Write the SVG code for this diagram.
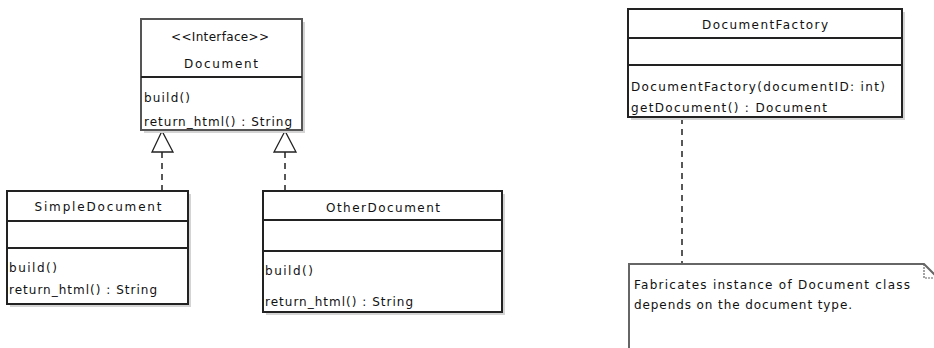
<svg xmlns="http://www.w3.org/2000/svg" width="934" height="348" viewBox="0 0 934 348">
<style>
.box{fill:#fff;stroke:#222;stroke-width:2}
.ibox{fill:#fff;stroke:#555;stroke-width:2}
.sh{fill:#d4d4d4}
.sep{stroke:#222;stroke-width:2}
.t{font-family:"DejaVu Sans",sans-serif;font-size:12px;fill:#111}
.c{text-anchor:middle}
.dash{stroke:#222;stroke-width:1.5;stroke-dasharray:6,5;fill:none}
.tri{fill:#fff;stroke:#222;stroke-width:1.3}
.note{fill:#fff;stroke:#666;stroke-width:2}
</style>
<rect width="934" height="348" fill="#fff"/>
<g id="connectors">
<line class="dash" x1="162" y1="152" x2="162" y2="191"/>
<line class="dash" x1="285" y1="152" x2="285" y2="191"/>
<polygon class="tri" points="162,131 152,152 173,152"/>
<polygon class="tri" points="285,131 274,152 296,152"/>
<line class="dash" x1="682" y1="118" x2="682" y2="264"/>
</g>
<g id="Document">
<rect class="sh" x="144" y="22" width="161" height="111"/>
<rect class="ibox" x="141" y="19" width="161" height="111"/>
<line class="sep" x1="141" y1="77" x2="302" y2="77"/>
<text class="t c" x="220" y="41" textLength="98" lengthAdjust="spacing">&lt;&lt;Interface&gt;&gt;</text>
<text class="t c" x="221" y="68" textLength="74" lengthAdjust="spacing">Document</text>
<text class="t" x="144" y="102" textLength="46" lengthAdjust="spacing">build()</text>
<text class="t" x="144" y="126" textLength="148" lengthAdjust="spacing">return_html() : String</text>
</g>
<g id="SimpleDocument">
<rect class="sh" x="10" y="194" width="181" height="113"/>
<rect class="box" x="7" y="191" width="181" height="113"/>
<line class="sep" x1="7" y1="221" x2="188" y2="221"/>
<line class="sep" x1="7" y1="248" x2="188" y2="248"/>
<text class="t c" x="98" y="211" textLength="127" lengthAdjust="spacing">SimpleDocument</text>
<text class="t" x="9" y="272" textLength="48" lengthAdjust="spacing">build()</text>
<text class="t" x="9" y="294" textLength="148" lengthAdjust="spacing">return_html() : String</text>
</g>
<g id="OtherDocument">
<rect class="sh" x="266" y="194" width="239" height="121"/>
<rect class="box" x="263" y="191" width="239" height="121"/>
<line class="sep" x1="263" y1="220" x2="502" y2="220"/>
<line class="sep" x1="263" y1="251" x2="502" y2="251"/>
<text class="t c" x="383" y="212" textLength="114" lengthAdjust="spacing">OtherDocument</text>
<text class="t" x="265" y="275" textLength="48" lengthAdjust="spacing">build()</text>
<text class="t" x="265" y="306" textLength="148" lengthAdjust="spacing">return_html() : String</text>
</g>
<g id="DocumentFactory">
<rect class="sh" x="631" y="12" width="274" height="108"/>
<rect class="box" x="628" y="9" width="274" height="108"/>
<line class="sep" x1="628" y1="38" x2="902" y2="38"/>
<line class="sep" x1="628" y1="65" x2="902" y2="65"/>
<text class="t c" x="765" y="29" textLength="126" lengthAdjust="spacing">DocumentFactory</text>
<text class="t" x="631" y="91" textLength="254" lengthAdjust="spacing">DocumentFactory(documentID: int)</text>
<text class="t" x="631" y="112" textLength="196" lengthAdjust="spacing">getDocument() : Document</text>
</g>
<g id="Note">
<polygon class="note" points="629,264 924,264 940,280 940,360 629,360"/>
<polyline points="924,264 924,278 940,278" fill="none" stroke="#666" stroke-width="1.2" stroke-dasharray="2,1"/>
<text class="t" x="634" y="289" textLength="276" lengthAdjust="spacing">Fabricates instance of Document class</text>
<text class="t" x="634" y="309" textLength="218" lengthAdjust="spacing">depends on the document type.</text>
</g>
</svg>
